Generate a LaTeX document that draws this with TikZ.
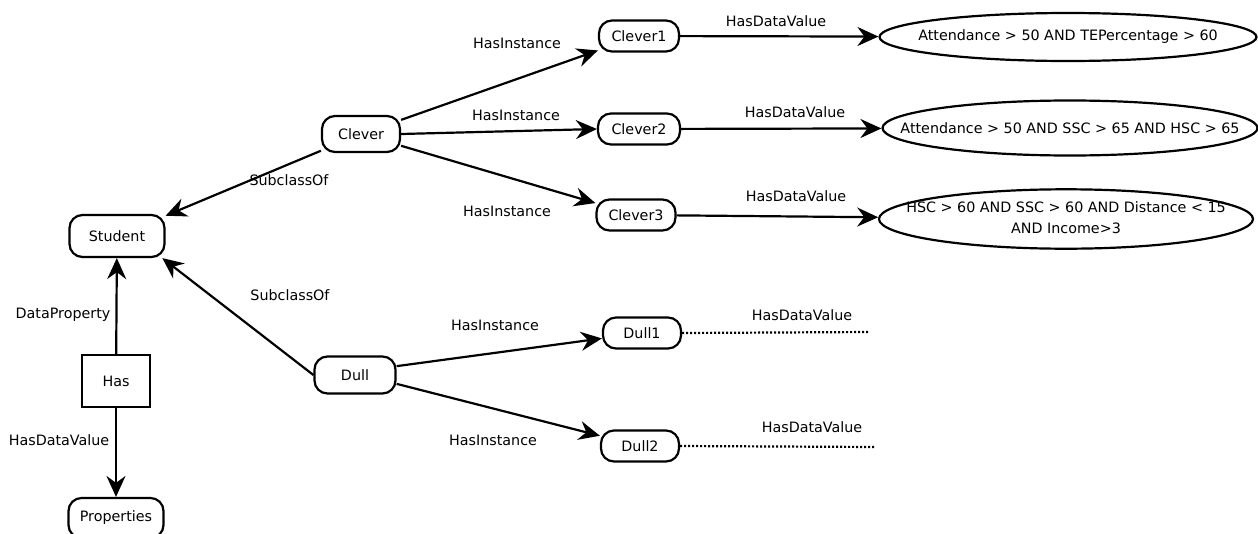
\documentclass[tikz,border=0pt]{standalone}
\usepackage{fontspec}
\setmainfont{DejaVu Sans}
\usetikzlibrary{arrows.meta,shapes.geometric}
\tikzset{
  pill/.style={draw, line width=2.2pt, rounded corners=13pt, inner sep=0pt, font=\fontsize{14.3}{17}\selectfont},
  sqbox/.style={draw, line width=2.2pt, inner sep=0pt, font=\fontsize{14.3}{17}\selectfont},
  oval/.style={draw, ellipse, line width=2.2pt, inner sep=0pt, font=\fontsize{14.3}{17}\selectfont},
  lbl/.style={inner sep=0pt, font=\fontsize{14.3}{17}\selectfont},
  arr/.style={line width=2.2pt, -{Stealth[length=21pt,width=19pt,inset=7pt]}},
  dots/.style={line width=2.2pt, dash pattern=on 2pt off 2pt}
}
\begin{document}
\begin{tikzpicture}[x=1pt,y=-1pt]
\useasboundingbox[fill=white] (0,0) rectangle (1258,533);
% nodes
\node[pill, minimum width=95pt, minimum height=42pt] (student) at (117,236) {Student};
\node[sqbox, minimum width=68pt, minimum height=52pt] (has) at (116,381) {Has};
\node[pill, minimum width=95pt, minimum height=40pt] (props) at (116,518) {Properties};
\node[pill, minimum width=78pt, minimum height=36pt] (clever) at (361,134) {Clever};
\node[pill, minimum width=81pt, minimum height=37pt] (dull) at (355,375) {Dull};
\node[pill, minimum width=80pt, minimum height=31pt] (c1) at (639,36) {Clever1};
\node[pill, minimum width=82pt, minimum height=31pt] (c2) at (639,129) {Clever2};
\node[pill, minimum width=79pt, minimum height=31pt] (c3) at (636,215) {Clever3};
\node[pill, minimum width=78pt, minimum height=31pt] (d1) at (642,333) {Dull1};
\node[pill, minimum width=78pt, minimum height=31pt] (d2) at (640,446) {Dull2};
\node[oval, minimum width=377pt, minimum height=48pt] (e1) at (1068,37) {\makebox[0pt]{Attendance > 50 AND TEPercentage > 60}};
\node[oval, minimum width=375pt, minimum height=55pt] (e2) at (1070,128) {\makebox[0pt]{Attendance > 50 AND SSC > 65 AND HSC > 65}};
\node[oval, minimum width=374pt, minimum height=54pt] (e3) at (1066,219) {\makebox[0pt]{\fontsize{14.3}{21}\selectfont\begin{tabular}{@{}c@{}}HSC > 60 AND SSC > 60 AND Distance < 15\\ AND Income>3\end{tabular}}};
\coordinate (d1end) at (870,332);
\coordinate (d2end) at (875,447);
% connectors
\draw[arr] (clever) -- (student);
\draw[arr] (dull.west) -- (student.-26);
\draw[arr] (has) -- (student);
\draw[arr] (has) -- (props);
\draw[arr] (clever) -- (c1);
\draw[arr] (clever.east) -- (c2.west);
\draw[arr] (clever) -- (c3);
\draw[arr] (dull.12) -- (d1);
\draw[arr] (dull.-12) -- (d2);
\draw[arr] (c1) -- (e1);
\draw[arr] (c2) -- (e2);
\draw[arr] (c3) -- (e3);
\draw[dots] (d1.east) -- (d1end);
\draw[dots] (d2.east) -- (d2end);
% labels
\node[lbl] (l1) at (517,43) {HasInstance};
\node[lbl] (l2) at (516,115) {HasInstance};
\node[lbl] (l3) at (507,211) {HasInstance};
\node[lbl] (l4) at (495,325) {HasInstance};
\node[lbl] (l5) at (493,440) {HasInstance};
\node[lbl] (l6) at (289,180) {SubclassOf};
\node[lbl] (l7) at (290,295) {SubclassOf};
\node[lbl] (l8) at (63,315) {DataProperty};
\node[lbl] (l9) at (59,440) {HasDataValue};
\node[lbl] (l10) at (776,21) {HasDataValue};
\node[lbl] (l11) at (795,112) {HasDataValue};
\node[lbl] (l12) at (796,196) {HasDataValue};
\node[lbl] (l13) at (802,315) {HasDataValue};
\node[lbl] (l14) at (812,427) {HasDataValue};
\end{tikzpicture}
\end{document}
